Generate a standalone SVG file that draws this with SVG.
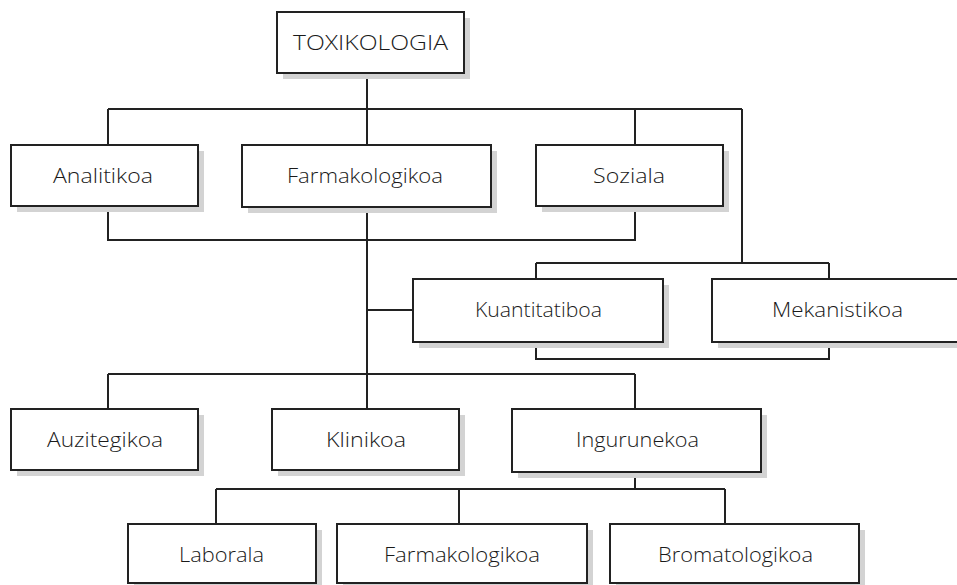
<svg xmlns="http://www.w3.org/2000/svg" width="957" height="585" viewBox="0 0 957 585">
<style>
.sh{fill:#d3d3d3}
.bx{fill:#fff;stroke:#222;stroke-width:2}
.t{font-family:"Open Sans","Noto Sans",sans-serif;font-size:21px;font-weight:300;fill:#1a1a1a;text-anchor:middle}
.c{fill:none;stroke:#222;stroke-width:2}
</style>
<rect width="957" height="585" fill="#fff"/>
<g id="connectors">
<path class="c" d="M367 73V145M108 109H742M108 109V145M635 109V145M742 109V263M536 263H829M536 263V279M829 263V279"/>
<path class="c" d="M108 206V240H635V206M367 207V409M367 310H413"/>
<path class="c" d="M536 342V359H829V342"/>
<path class="c" d="M108 374H635M108 374V409M635 374V409"/>
<path class="c" d="M635 472V489M216 489H725M216 489V524M459 489V524M725 489V524"/>
</g>
<g id="n-toxikologia"><rect class="sh" x="283" y="18" width="187" height="61"/><rect class="bx" x="277" y="12" width="187" height="61"/><text class="t" x="370.5" y="50" textLength="155" lengthAdjust="spacingAndGlyphs">TOXIKOLOGIA</text></g>
<g id="n-analitikoa"><rect class="sh" x="17" y="151" width="187" height="61"/><rect class="bx" x="11" y="145" width="187" height="61"/><text class="t" x="103" y="183" textLength="100" lengthAdjust="spacingAndGlyphs">Analitikoa</text></g>
<g id="n-farmakologikoa1"><rect class="sh" x="248" y="151" width="249" height="62"/><rect class="bx" x="242" y="145" width="249" height="62"/><text class="t" x="365" y="183" textLength="156" lengthAdjust="spacingAndGlyphs">Farmakologikoa</text></g>
<g id="n-soziala"><rect class="sh" x="542" y="151" width="187" height="61"/><rect class="bx" x="536" y="145" width="187" height="61"/><text class="t" x="629" y="183" textLength="72" lengthAdjust="spacingAndGlyphs">Soziala</text></g>
<g id="n-kuantitatiboa"><rect class="sh" x="419" y="285" width="250" height="63"/><rect class="bx" x="413" y="279" width="250" height="63"/><text class="t" x="538.5" y="317" textLength="127" lengthAdjust="spacingAndGlyphs">Kuantitatiboa</text></g>
<g id="n-mekanistikoa"><rect class="sh" x="718" y="285" width="250" height="63"/><rect class="bx" x="712" y="279" width="250" height="63"/><text class="t" x="837.5" y="317" textLength="131" lengthAdjust="spacingAndGlyphs">Mekanistikoa</text></g>
<g id="n-auzitegikoa"><rect class="sh" x="17" y="415" width="187" height="61"/><rect class="bx" x="11" y="409" width="187" height="61"/><text class="t" x="105" y="447" textLength="116" lengthAdjust="spacingAndGlyphs">Auzitegikoa</text></g>
<g id="n-klinikoa"><rect class="sh" x="278" y="415" width="187" height="61"/><rect class="bx" x="272" y="409" width="187" height="61"/><text class="t" x="366" y="447" textLength="80" lengthAdjust="spacingAndGlyphs">Klinikoa</text></g>
<g id="n-ingurunekoa"><rect class="sh" x="518" y="415" width="249" height="63"/><rect class="bx" x="512" y="409" width="249" height="63"/><text class="t" x="637.5" y="447" textLength="123" lengthAdjust="spacingAndGlyphs">Ingurunekoa</text></g>
<g id="n-laborala"><rect class="sh" x="134" y="530" width="188" height="60"/><rect class="bx" x="128" y="524" width="188" height="59"/><text class="t" x="221.5" y="562" textLength="85" lengthAdjust="spacingAndGlyphs">Laborala</text></g>
<g id="n-farmakologikoa2"><rect class="sh" x="343" y="530" width="250" height="60"/><rect class="bx" x="337" y="524" width="250" height="59"/><text class="t" x="462" y="562" textLength="156" lengthAdjust="spacingAndGlyphs">Farmakologikoa</text></g>
<g id="n-bromatologikoa"><rect class="sh" x="616" y="530" width="249" height="60"/><rect class="bx" x="610" y="524" width="249" height="59"/><text class="t" x="735.5" y="562" textLength="155" lengthAdjust="spacingAndGlyphs">Bromatologikoa</text></g>
</svg>
